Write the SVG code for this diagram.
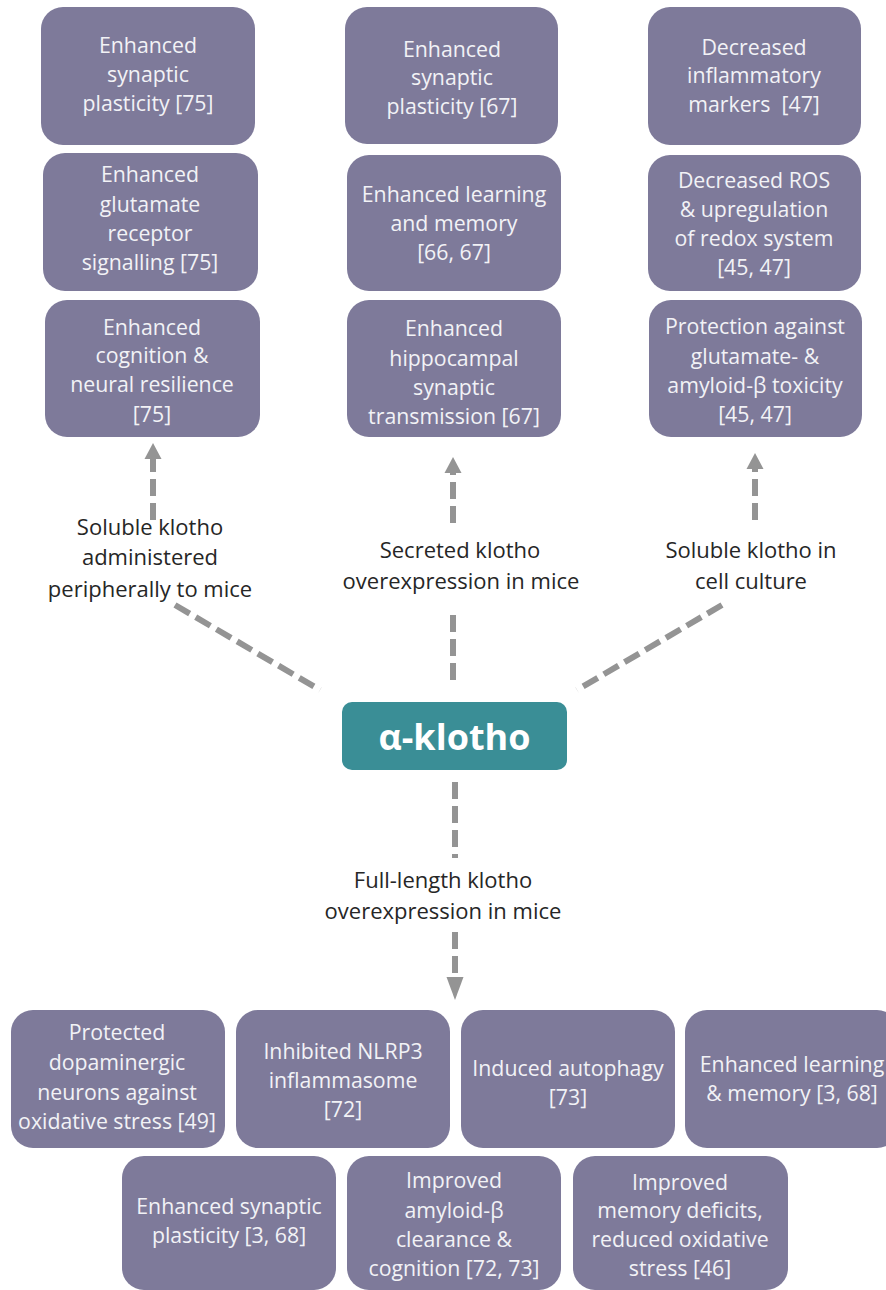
<svg xmlns="http://www.w3.org/2000/svg" width="886" height="1290" viewBox="0 0 886 1290">
<style>
.box{fill:#7e7a9a}
.bt{font-family:"Open Sans","Noto Sans",sans-serif;font-size:21.3px;fill:#f2f2f6;text-anchor:middle}
.lb{font-family:"Open Sans","Noto Sans",sans-serif;font-size:22px;fill:#262626;text-anchor:middle}
.cn{fill:none;stroke:#949494;stroke-width:6;stroke-dasharray:17 7}
.ah{fill:#949494}
</style>
<rect width="886" height="1290" fill="#ffffff"/>
<g id="connectors">
<line class="cn" x1="153" y1="520" x2="153" y2="459"/>
<polygon class="ah" points="153,443 144.5,459 161.5,459"/>
<line class="cn" x1="453" y1="523" x2="453" y2="472"/>
<polygon class="ah" points="453,457 444.5,473 461.5,473"/>
<line class="cn" x1="755" y1="520" x2="755" y2="469"/>
<polygon class="ah" points="755,453 746.5,469 763.5,469"/>
<line class="cn" x1="453" y1="615" x2="453" y2="686"/>
<line class="cn" x1="175" y1="605" x2="320" y2="690"/>
<line class="cn" x1="722" y1="605" x2="577" y2="690"/>
<line class="cn" x1="455" y1="782" x2="455" y2="858"/>
<line class="cn" x1="455" y1="932" x2="455" y2="978"/>
<polygon class="ah" points="455,1000 446.5,977 463.5,977"/>
</g>
<g id="labels">
<text class="lb" x="150" y="535">Soluble klotho</text>
<text class="lb" x="150" y="565">administered</text>
<text class="lb" x="150" y="597">peripherally to mice</text>
<text class="lb" x="460" y="558">Secreted klotho</text>
<text class="lb" x="461" y="589">overexpression in mice</text>
<text class="lb" x="751" y="558">Soluble klotho in</text>
<text class="lb" x="751" y="589">cell culture</text>
<text class="lb" x="443" y="888">Full-length klotho</text>
<text class="lb" x="443" y="919">overexpression in mice</text>
</g>
<g id="klotho">
<rect x="342" y="702" width="225" height="68" rx="10" fill="#3a8e96"/>
<text x="454.5" y="750" font-family="'Open Sans','Noto Sans',sans-serif" font-size="36" font-weight="bold" fill="#ffffff" text-anchor="middle">α-klotho</text>
</g>
<g id="c1b1">
<rect class="box" x="41" y="7" width="214" height="138" rx="22"/>
<text class="bt" x="148" y="53">Enhanced</text>
<text class="bt" x="148" y="82">synaptic</text>
<text class="bt" x="148" y="111">plasticity [75]</text>
</g>
<g id="c1b2">
<rect class="box" x="43" y="153" width="215" height="138" rx="22"/>
<text class="bt" x="150" y="182">Enhanced</text>
<text class="bt" x="150" y="212">glutamate</text>
<text class="bt" x="150" y="241">receptor</text>
<text class="bt" x="150" y="270">signalling [75]</text>
</g>
<g id="c1b3">
<rect class="box" x="45" y="300" width="215" height="137" rx="22"/>
<text class="bt" x="152" y="335">Enhanced</text>
<text class="bt" x="152" y="363">cognition &amp;</text>
<text class="bt" x="152" y="392">neural resilience</text>
<text class="bt" x="152" y="422">[75]</text>
</g>
<g id="c2b1">
<rect class="box" x="345" y="7" width="213" height="137" rx="22"/>
<text class="bt" x="452" y="57">Enhanced</text>
<text class="bt" x="452" y="85">synaptic</text>
<text class="bt" x="452" y="114">plasticity [67]</text>
</g>
<g id="c2b2">
<rect class="box" x="347" y="155" width="214" height="136" rx="22"/>
<text class="bt" x="454" y="202">Enhanced learning</text>
<text class="bt" x="454" y="231">and memory</text>
<text class="bt" x="454" y="260">[66, 67]</text>
</g>
<g id="c2b3">
<rect class="box" x="347" y="300" width="214" height="137" rx="22"/>
<text class="bt" x="454" y="336">Enhanced</text>
<text class="bt" x="454" y="366">hippocampal</text>
<text class="bt" x="454" y="395">synaptic</text>
<text class="bt" x="454" y="424">transmission [67]</text>
</g>
<g id="c3b1">
<rect class="box" x="648" y="7" width="213" height="138" rx="22"/>
<text class="bt" x="754" y="55">Decreased</text>
<text class="bt" x="754" y="83">inflammatory</text>
<text class="bt" x="754" y="112" xml:space="preserve">markers  [47]</text>
</g>
<g id="c3b2">
<rect class="box" x="648" y="155" width="213" height="136" rx="22"/>
<text class="bt" x="754" y="188">Decreased ROS</text>
<text class="bt" x="754" y="217">&amp; upregulation</text>
<text class="bt" x="754" y="246">of redox system</text>
<text class="bt" x="754" y="275">[45, 47]</text>
</g>
<g id="c3b3">
<rect class="box" x="649" y="300" width="213" height="137" rx="22"/>
<text class="bt" x="755" y="334">Protection against</text>
<text class="bt" x="755" y="364">glutamate- &amp;</text>
<text class="bt" x="755" y="393">amyloid-β toxicity</text>
<text class="bt" x="755" y="422">[45, 47]</text>
</g>
<g id="r1b1">
<rect class="box" x="11" y="1010" width="214" height="138" rx="22"/>
<text class="bt" x="117" y="1040">Protected</text>
<text class="bt" x="117" y="1070">dopaminergic</text>
<text class="bt" x="117" y="1100">neurons against</text>
<text class="bt" x="117" y="1129">oxidative stress [49]</text>
</g>
<g id="r1b2">
<rect class="box" x="236" y="1010" width="214" height="138" rx="22"/>
<text class="bt" x="343" y="1059">Inhibited NLRP3</text>
<text class="bt" x="343" y="1088">inflammasome</text>
<text class="bt" x="343" y="1117">[72]</text>
</g>
<g id="r1b3">
<rect class="box" x="461" y="1010" width="214" height="138" rx="22"/>
<text class="bt" x="568" y="1076">Induced autophagy</text>
<text class="bt" x="568" y="1105">[73]</text>
</g>
<g id="r1b4">
<rect class="box" x="685" y="1010" width="214" height="138" rx="22"/>
<text class="bt" x="792" y="1072">Enhanced learning</text>
<text class="bt" x="792" y="1101">&amp; memory [3, 68]</text>
</g>
<g id="r2b1">
<rect class="box" x="122" y="1156" width="214" height="134" rx="22"/>
<text class="bt" x="229" y="1214">Enhanced synaptic</text>
<text class="bt" x="229" y="1243">plasticity [3, 68]</text>
</g>
<g id="r2b2">
<rect class="box" x="347" y="1156" width="214" height="134" rx="22"/>
<text class="bt" x="454" y="1188">Improved</text>
<text class="bt" x="454" y="1218">amyloid-β</text>
<text class="bt" x="454" y="1247">clearance &amp;</text>
<text class="bt" x="454" y="1276">cognition [72, 73]</text>
</g>
<g id="r2b3">
<rect class="box" x="573" y="1156" width="215" height="134" rx="22"/>
<text class="bt" x="680" y="1190">Improved</text>
<text class="bt" x="680" y="1218">memory deficits,</text>
<text class="bt" x="680" y="1247">reduced oxidative</text>
<text class="bt" x="680" y="1276">stress [46]</text>
</g>
</svg>
